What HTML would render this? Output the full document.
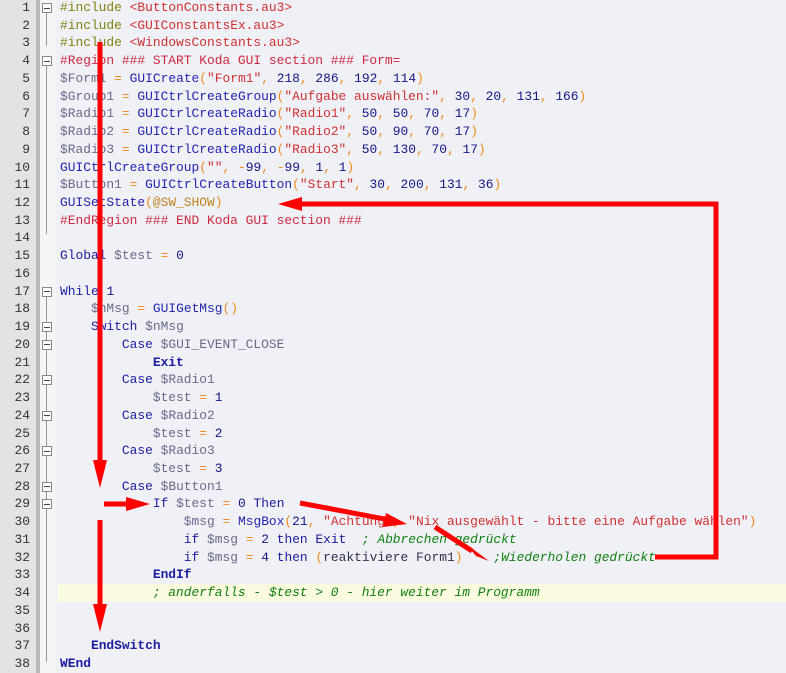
<!DOCTYPE html>
<html><head><meta charset="utf-8"><style>
html,body{margin:0;padding:0}
body{width:786px;height:673px;overflow:hidden;background:#eff1f6;position:relative;font-family:"Liberation Mono",monospace;font-size:12.9px}
.gut{position:absolute;left:0;top:0;width:36px;height:673px;background:#e3e3e3}
.gut2{position:absolute;left:36px;top:0;width:4px;height:673px;background:#b8b8b8}
.fold{position:absolute;left:40px;top:0;width:16px;height:673px;background:#f5f5f5}
.ln{position:absolute;left:0;width:30px;text-align:right;color:#333;height:17.73px;line-height:17.73px}
.l{position:absolute;left:60px;white-space:pre;height:17.73px;line-height:17.73px;color:#202080}
.k{color:#1c1ca0}.f{color:#2424b0}.v{color:#6a6a8a}.s{color:#d03030}.o{color:#f08a20}.n{color:#151585}
.c{color:#108010;font-style:italic}.p{color:#808010}.r{color:#d02840}.m{color:#c08020}.b{font-weight:bold}
.box{position:absolute;left:42px;width:8px;height:8px;border:1px solid #888;background:#fff}
.box:after{content:"";position:absolute;left:1px;right:1px;top:3.5px;height:1px;background:#444}
.vl{position:absolute;left:46px;width:1px;background:#999}
.hl{position:absolute;left:58px;width:728px;height:17.73px;background:#fbfbe0}
</style></head><body>
<div class="gut"></div><div class="gut2"></div><div class="fold"></div>
<div class="hl" style="top:584px"></div>
<div class="vl" style="top:12px;height:34px"></div>
<div class="vl" style="top:65px;height:169px"></div>
<div class="vl" style="top:296px;height:366px"></div>
<div id="nums"></div>
<div id="code"></div>
<script>
var L=[
'<span class="p">#include</span> <span class="s">&lt;ButtonConstants.au3&gt;</span>',
'<span class="p">#include</span> <span class="s">&lt;GUIConstantsEx.au3&gt;</span>',
'<span class="p">#include</span> <span class="s">&lt;WindowsConstants.au3&gt;</span>',
'<span class="r">#Region ### START Koda GUI section ### Form=</span>',
'<span class="v">$Form1</span> <span class="o">=</span> <span class="f">GUICreate</span><span class="o">(</span><span class="s">"Form1"</span><span class="o">,</span> <span class="n">218</span><span class="o">,</span> <span class="n">286</span><span class="o">,</span> <span class="n">192</span><span class="o">,</span> <span class="n">114</span><span class="o">)</span>',
'<span class="v">$Group1</span> <span class="o">=</span> <span class="f">GUICtrlCreateGroup</span><span class="o">(</span><span class="s">"Aufgabe auswählen:"</span><span class="o">,</span> <span class="n">30</span><span class="o">,</span> <span class="n">20</span><span class="o">,</span> <span class="n">131</span><span class="o">,</span> <span class="n">166</span><span class="o">)</span>',
'<span class="v">$Radio1</span> <span class="o">=</span> <span class="f">GUICtrlCreateRadio</span><span class="o">(</span><span class="s">"Radio1"</span><span class="o">,</span> <span class="n">50</span><span class="o">,</span> <span class="n">50</span><span class="o">,</span> <span class="n">70</span><span class="o">,</span> <span class="n">17</span><span class="o">)</span>',
'<span class="v">$Radio2</span> <span class="o">=</span> <span class="f">GUICtrlCreateRadio</span><span class="o">(</span><span class="s">"Radio2"</span><span class="o">,</span> <span class="n">50</span><span class="o">,</span> <span class="n">90</span><span class="o">,</span> <span class="n">70</span><span class="o">,</span> <span class="n">17</span><span class="o">)</span>',
'<span class="v">$Radio3</span> <span class="o">=</span> <span class="f">GUICtrlCreateRadio</span><span class="o">(</span><span class="s">"Radio3"</span><span class="o">,</span> <span class="n">50</span><span class="o">,</span> <span class="n">130</span><span class="o">,</span> <span class="n">70</span><span class="o">,</span> <span class="n">17</span><span class="o">)</span>',
'<span class="f">GUICtrlCreateGroup</span><span class="o">(</span><span class="s">""</span><span class="o">,</span> <span class="o">-</span><span class="n">99</span><span class="o">,</span> <span class="o">-</span><span class="n">99</span><span class="o">,</span> <span class="n">1</span><span class="o">,</span> <span class="n">1</span><span class="o">)</span>',
'<span class="v">$Button1</span> <span class="o">=</span> <span class="f">GUICtrlCreateButton</span><span class="o">(</span><span class="s">"Start"</span><span class="o">,</span> <span class="n">30</span><span class="o">,</span> <span class="n">200</span><span class="o">,</span> <span class="n">131</span><span class="o">,</span> <span class="n">36</span><span class="o">)</span>',
'<span class="f">GUISetState</span><span class="o">(</span><span class="m">@SW_SHOW</span><span class="o">)</span>',
'<span class="r">#EndRegion ### END Koda GUI section ###</span>',
'',
'<span class="k">Global</span> <span class="v">$test</span> <span class="o">=</span> <span class="n">0</span>',
'',
'<span class="k">While</span> <span class="n">1</span>',
'    <span class="v">$nMsg</span> <span class="o">=</span> <span class="f">GUIGetMsg</span><span class="o">()</span>',
'    <span class="k">Switch</span> <span class="v">$nMsg</span>',
'        <span class="k">Case</span> <span class="v">$GUI_EVENT_CLOSE</span>',
'            <span class="k b">Exit</span>',
'        <span class="k">Case</span> <span class="v">$Radio1</span>',
'            <span class="v">$test</span> <span class="o">=</span> <span class="n">1</span>',
'        <span class="k">Case</span> <span class="v">$Radio2</span>',
'            <span class="v">$test</span> <span class="o">=</span> <span class="n">2</span>',
'        <span class="k">Case</span> <span class="v">$Radio3</span>',
'            <span class="v">$test</span> <span class="o">=</span> <span class="n">3</span>',
'        <span class="k">Case</span> <span class="v">$Button1</span>',
'            <span class="k">If</span> <span class="v">$test</span> <span class="o">=</span> <span class="n">0</span> <span class="k">Then</span>',
'                <span class="v">$msg</span> <span class="o">=</span> <span class="f">MsgBox</span><span class="o">(</span><span class="n">21</span><span class="o">,</span> <span class="s">"Achtung"</span><span class="o">,</span> <span class="s">"Nix ausgewählt - bitte eine Aufgabe wählen"</span><span class="o">)</span>',
'                <span class="k">if</span> <span class="v">$msg</span> <span class="o">=</span> <span class="n">2</span> <span class="k">then</span> <span class="k">Exit</span>  <span class="c">; Abbrechen gedrückt</span>',
'                <span class="k">if</span> <span class="v">$msg</span> <span class="o">=</span> <span class="n">4</span> <span class="k">then</span> <span class="o">(</span><span style="color:#303050">reaktiviere Form1</span><span class="o">)</span>    <span class="c">;Wiederholen gedrückt</span>',
'            <span class="k b">EndIf</span>',
'            <span class="c">; anderfalls - $test &gt; 0 - hier weiter im Programm</span>',
'',
'',
'    <span class="k b">EndSwitch</span>',
'<span class="k b">WEnd</span>'];
var boxes=[1,4,17,19,20,22,24,26,28,29],h='',n='';
for(var i=0;i<38;i++){var t=-1+i*17.73;
n+='<div class="ln" style="top:'+t+'px">'+(i+1)+'</div>';
h+='<div class="l" style="top:'+t+'px">'+L[i]+'</div>';
if(boxes.indexOf(i+1)>=0)n+='<div class="box" style="top:'+(t+4)+'px"></div>';}
document.getElementById('nums').innerHTML=n;document.getElementById('code').innerHTML=h;
</script>
<svg width="786" height="673" style="position:absolute;left:0;top:0" xmlns="http://www.w3.org/2000/svg">
<g stroke="#ff0000" stroke-width="5" fill="none">
<line x1="100" y1="42" x2="100" y2="462"/>
<line x1="100" y1="520" x2="100" y2="605"/>
<line x1="104" y1="504" x2="128" y2="504"/>
<line x1="300" y1="503" x2="390" y2="520"/>
<line x1="435" y1="527" x2="472" y2="551"/>
<polyline points="655,557 716,557 716,204 300,204"/>
</g>
<g fill="#ff0000">
<polygon points="93,460 107,460 100,488"/>
<polygon points="93,604 107,604 100,632"/>
<polygon points="126,497 126,511 150,504"/>
<polygon points="386,513 383,527 407,524"/>
<polygon points="466,544 476,556 489,561"/>
<polygon points="302,197 302,211 278,204"/>
</g>
</svg>
</body></html>
